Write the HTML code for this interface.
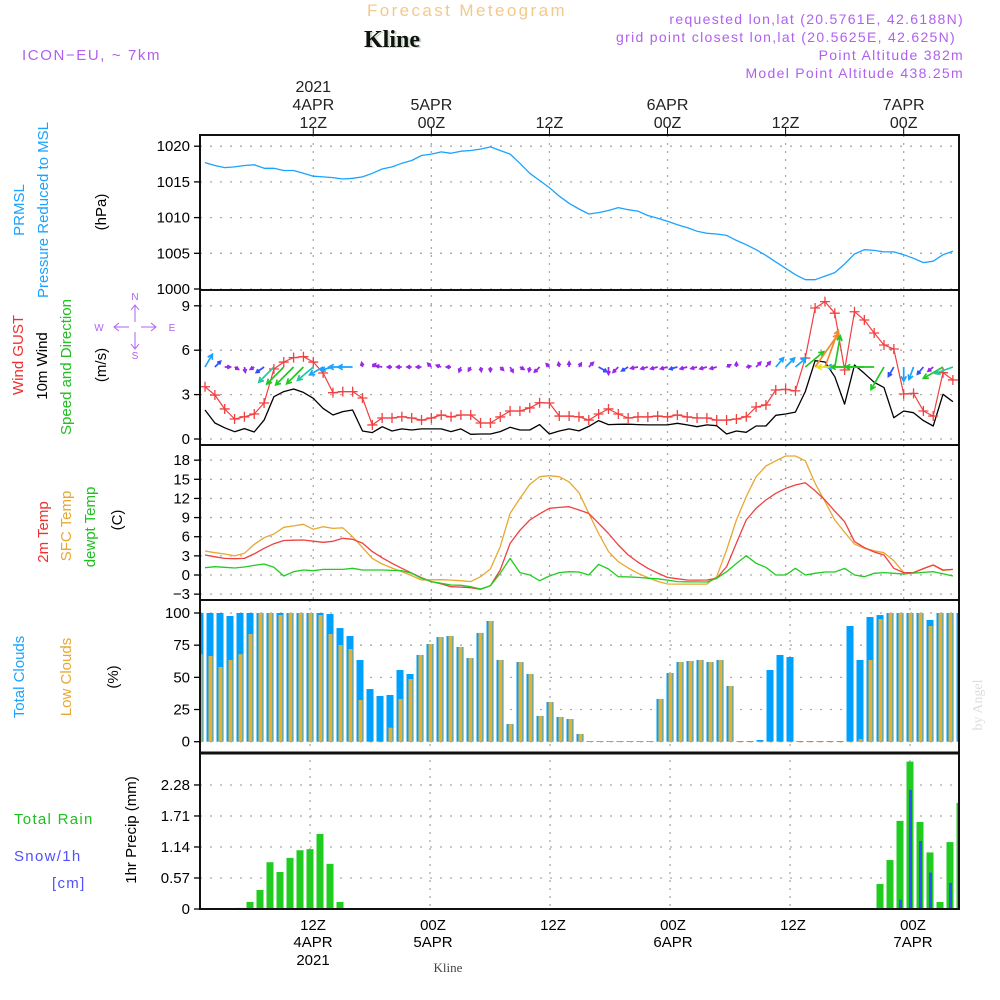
<!DOCTYPE html>
<html><head><meta charset="utf-8"><style>
html,body{margin:0;padding:0;background:#fff;}
svg{display:block;font-family:"Liberation Sans",sans-serif;}
</style></head><body>
<svg id="chart" xmlns="http://www.w3.org/2000/svg" width="1000" height="1000" viewBox="0 0 1000 1000">
<rect width="1000" height="1000" fill="#fff"/>
<text x="467" y="16" font-size="17" fill="#f3c98a" text-anchor="middle" letter-spacing="2.4">Forecast Meteogram</text>
<text x="394" y="48" font-size="24" font-weight="bold" font-family="Liberation Serif,serif" fill="#c8dcc8" text-anchor="middle">Kline</text>
<text x="392" y="47" font-size="24" font-weight="bold" font-family="Liberation Serif,serif" fill="#111" text-anchor="middle">Kline</text>
<text x="22" y="60" font-size="15" fill="#b060f0" letter-spacing="1.6">ICON−EU, ~ 7km</text>
<g font-size="14" fill="#b060f0" text-anchor="end" letter-spacing="1.3">
<text x="964" y="24">requested lon,lat (20.5761E, 42.6188N)</text>
<text x="956" y="42">grid point closest lon,lat (20.5625E, 42.625N)</text>
<text x="964" y="60">Point Altitude 382m</text>
<text x="964" y="78">Model Point Altitude 438.25m</text>
</g>
<g font-size="15">
<text transform="translate(24,210) rotate(-90)" text-anchor="middle" fill="#1aa3ff">PRMSL</text>
<text transform="translate(48,210) rotate(-90)" text-anchor="middle" fill="#1aa3ff">Pressure Reduced to MSL</text>
<text transform="translate(106,212) rotate(-90)" text-anchor="middle" fill="#000">(hPa)</text>
<text transform="translate(23,355) rotate(-90)" text-anchor="middle" fill="#f03030">Wind GUST</text>
<text transform="translate(47,366) rotate(-90)" text-anchor="middle" fill="#000">10m Wind</text>
<text transform="translate(71,367) rotate(-90)" text-anchor="middle" fill="#20c020">Speed and Direction</text>
<text transform="translate(106,365) rotate(-90)" text-anchor="middle" fill="#000">(m/s)</text>
<text transform="translate(48,532) rotate(-90)" text-anchor="middle" fill="#f03030">2m Temp</text>
<text transform="translate(71,526) rotate(-90)" text-anchor="middle" fill="#e8a830">SFC Temp</text>
<text transform="translate(95,527) rotate(-90)" text-anchor="middle" fill="#20c020">dewpt Temp</text>
<text transform="translate(122,520) rotate(-90)" text-anchor="middle" fill="#000">(C)</text>
<text transform="translate(24,677) rotate(-90)" text-anchor="middle" fill="#1aa3ff">Total Clouds</text>
<text transform="translate(71,677) rotate(-90)" text-anchor="middle" fill="#e8a830">Low Clouds</text>
<text transform="translate(118,677) rotate(-90)" text-anchor="middle" fill="#000">(%)</text>
<text transform="translate(136,830) rotate(-90)" text-anchor="middle" fill="#000">1hr Precip (mm)</text>
<text x="14" y="824" fill="#20c020" letter-spacing="1.3">Total   Rain</text>
<text x="14" y="861" fill="#5050ff" letter-spacing="1.3">Snow/1h</text>
<text x="52" y="888" fill="#5050ff" letter-spacing="1.3">[cm]</text>
</g>
<g fill="none" stroke="#b060f0" stroke-width="1">
<path d="M135,306 V322 M135,332 V348 M131,310 L135,305 L139,310 M131,344 L135,349 L139,344 M115,327 H129 M141,327 H155 M119,323 L114,327 L119,331 M151,323 L156,327 L151,331"/>
<g stroke="none" fill="#b060f0" font-size="10" text-anchor="middle">
<text x="135" y="300">N</text><text x="99" y="331">W</text><text x="172" y="331">E</text><text x="135" y="359">S</text>
</g>
</g>
<text transform="translate(982,705) rotate(-90)" text-anchor="middle" font-size="14" font-family="Liberation Serif,serif" fill="#ddd">by Angel</text>
<text x="448" y="972" font-size="13" font-family="Liberation Serif,serif" fill="#444" text-anchor="middle">Kline</text>
<g id="grid"></g>
<g id="marks"></g>
<g id="frames"></g>
<g id="axes" font-size="15" fill="#000"></g>
</svg>
<script>
const hours = Array.from({length:77},(_,i)=>i+1);
const pressure = [1017.7,1017.3,1017.0,1017.1,1017.3,1017.4,1016.9,1016.9,1016.6,1016.6,1016.2,1015.8,1015.7,1015.6,1015.4,1015.5,1015.7,1016.2,1016.8,1017.1,1017.6,1018.0,1018.7,1018.9,1019.2,1019.0,1019.3,1019.4,1019.6,1019.9,1019.4,1018.9,1017.6,1016.2,1015.2,1014.2,1013.0,1012.0,1011.2,1010.5,1010.7,1011.0,1011.4,1011.1,1010.9,1010.3,1009.9,1009.5,1009.0,1008.6,1008.1,1007.8,1007.7,1007.5,1006.8,1006.2,1005.5,1004.7,1003.8,1002.9,1002.0,1001.3,1001.3,1001.8,1002.3,1003.5,1004.9,1005.5,1005.4,1005.2,1005.2,1004.8,1004.3,1003.7,1003.9,1004.8,1005.3];
const gust = [3.53,2.97,2.03,1.35,1.5,1.69,2.43,4.73,5.2,5.5,5.56,5.2,4.46,3.13,3.2,3.2,2.77,0.95,1.42,1.42,1.5,1.42,1.28,1.42,1.62,1.5,1.62,1.62,1.08,1.08,1.49,1.89,1.89,2.1,2.45,2.43,1.55,1.55,1.5,1.28,1.69,2.03,1.69,1.42,1.49,1.49,1.55,1.49,1.62,1.49,1.42,1.42,1.28,1.28,1.35,1.5,2.16,2.3,3.31,3.35,3.25,5.47,8.85,9.28,8.5,4.66,8.6,8.04,7.16,6.35,6.08,3.04,3.08,1.89,1.55,4.48,3.99];
const wind = [1.96,1.08,0.76,0.49,0.7,0.47,1.28,2.86,3.2,3.38,3.15,2.75,2.07,1.62,1.85,1.96,0.54,0.43,0.83,0.54,0.68,0.61,0.68,0.68,0.68,0.5,0.68,0.32,0.34,0.34,0.5,0.79,0.61,0.61,0.97,0.34,0.54,0.68,0.55,0.85,1.24,0.97,0.99,1.0,0.97,0.95,0.95,0.95,1.06,0.95,0.83,0.95,0.9,0.34,0.54,0.45,0.88,0.88,1.6,1.69,1.82,3.2,5.29,5.2,4.21,2.36,5.0,4.44,3.83,3.47,1.44,1.89,1.78,1.24,0.88,3.02,2.52];
const windDir = [60,45,0,-30,-80,-150,-145,-135,-135,-135,-135,-140,-150,-165,180,180,100,45,170,180,180,180,180,135,160,180,-110,-120,-80,-90,-45,-60,-30,-100,-135,135,100,90,60,45,-30,-90,-135,-150,-170,-165,-165,-165,-165,-165,-165,-165,-165,30,90,10,45,50,50,45,40,40,55,70,80,180,180,180,180,-120,-120,-90,-110,-130,-140,-150,-160];
const temp2m = [3.13,2.85,2.6,2.55,2.6,3.3,4.18,4.9,5.4,5.45,5.49,5.3,5.12,5.28,5.75,5.6,5.0,3.66,2.7,1.83,1.05,0.3,-0.42,-1.04,-1.4,-1.83,-1.9,-1.99,-2.24,-1.67,0.78,4.96,7.0,8.62,9.6,10.45,10.6,10.71,10.19,9.66,8.1,6.5,4.7,3.13,2.0,1.05,0.3,-0.37,-0.6,-0.78,-0.8,-0.78,-0.52,1.3,5.0,8.62,10.45,11.76,12.8,13.58,14.1,14.47,13.2,11.76,10.0,8.36,5.23,4.3,3.6,3.13,1.05,0.37,0.37,1.0,1.57,0.78,0.88];
const tempSfc = [3.76,3.5,3.29,3.0,3.4,4.8,5.85,6.43,7.47,7.7,7.94,7.16,7.57,7.3,7.4,6.0,4.3,2.6,1.72,1.1,0.52,-0.1,-0.78,-0.75,-0.73,-0.8,-0.9,-1.04,-0.26,0.94,4.44,9.66,12.0,14.2,15.4,15.56,15.4,14.6,12.9,9.66,6.5,3.66,2.09,1.1,0.26,-0.4,-1.0,-1.41,-1.42,-1.43,-1.43,-1.43,-0.26,3.92,8.62,12.27,15.4,17.08,17.9,18.65,18.65,17.9,14.37,11.5,8.62,6.7,4.86,4.18,3.8,3.5,2.24,0.37,0.37,1.0,1.57,0.7,0.88];
const dewpt = [1.15,1.3,1.2,1.1,1.25,1.5,1.72,1.2,-0.16,0.52,0.78,0.68,0.88,0.88,0.88,1.05,0.78,0.78,0.78,0.72,0.68,0.26,-0.52,-1.04,-1.3,-1.57,-1.62,-1.83,-2.2,-1.67,0.26,2.6,0.37,0.0,-0.89,-0.16,0.37,0.52,0.47,0.0,1.67,0.94,-0.26,-0.3,-0.37,-0.5,-0.6,-0.8,-1.04,-1.06,-1.08,-1.1,-0.52,0.52,1.8,3.03,1.83,1.2,0.0,0.0,1.05,0.0,0.26,0.47,0.47,1.05,0.0,-0.26,0.26,0.37,0.26,0.16,0.3,0.4,0.52,0.2,-0.16];
const totalCloud = [100,100,100,97.7,100,100,100,100,100,100,100,100,100,99.2,88.3,82.1,63.5,40.9,35.5,36.3,55.7,52.6,67.4,75.9,81.3,82.1,73.6,65,84.5,93.8,63.5,13.7,61.9,52.6,20,30.8,19.2,17.6,6,0.5,0.5,0.5,0.5,0.5,0.5,0.5,33.2,53.4,61.9,62.7,63.5,61.9,63.5,43.3,0.5,0.5,1.3,55.7,67.4,65.8,0.5,0.5,0.5,0.5,0.5,89.9,63.5,96.9,98.4,100,100,100,100,94.6,100,100,100];
const lowCloud = [68,66.6,58,63.5,68,83.7,100,100,98.4,100,100,100,98.4,83.7,75.1,72,32.4,0,0,10.9,33.2,48.7,67.4,75.9,81.3,82.1,73.6,65,84.5,93.8,63.5,13.7,61.9,52.6,20,30.8,19.2,17.6,6,0.5,0.5,0.5,0.5,0.5,0.5,0.5,33.2,53.4,61.9,62.7,63.5,61.9,63.5,43.3,0,0,0,0,0,0,0,0,0,0,0,0,2,63.5,95.3,100,100,100,100,89.9,100,100,100];
const precipHours = [5,6,7,8,9,10,11,12,13,14,15,69,70,71,72,73,74,75,76,77];
const rain = [0.02,0.13,0.35,0.86,0.68,0.94,1.08,1.10,1.38,0.83,0.13,0.46,0.90,1.62,2.71,1.60,1.04,0.13,1.23,1.95];
const snowHours = [71,72,73,74,76,77];
const snow = [0.17,2.19,1.25,0.67,0.48,1.16];
const pTicks = [1000,1005,1010,1015,1020];
const wTicks = [0,3,6,9];
const tTicks = [-3,0,3,6,9,12,15,18];
const cTicks = [0,25,50,75,100];
const rTicks = [0,0.57,1.14,1.71,2.28];
const timeTicks = [12,24,36,48,60,72];
const topLabels = [["2021","4APR","12Z"],["","5APR","00Z"],["","","12Z"],["","6APR","00Z"],["","","12Z"],["","7APR","00Z"]];

const xu = t => 195.2 + 9.84*t;
const xl = t => 190 + 10*t;
const yP = v => 289 - (v-1000)*7.14;
const yW = v => 439 - v*14.8;
const yT = v => 575 - v*6.38;
const yC = v => 741.7 - v*1.287;
const yR = v => 909 - v*54.4;
const panels = [[135,290],[290,445],[445,600],[600,753],[753,909]];
const L = 200, R = 959;

const NS = "http://www.w3.org/2000/svg";
function mk(tag, attrs, parent){const e=document.createElementNS(NS,tag);for(const k in attrs)e.setAttribute(k,attrs[k]);parent.appendChild(e);return e;}
const grid = document.getElementById('grid'), marks = document.getElementById('marks'), frames = document.getElementById('frames'), axes = document.getElementById('axes');

const defs = mk('defs',{},document.getElementById('chart'));
panels.forEach((p,i)=>{const c=mk('clipPath',{id:'clip'+i},defs);mk('rect',{x:L,y:p[0],width:R-L,height:p[1]-p[0]},c);});

function hgrid(ticks, yf, name){ticks.forEach(v=>{const y=yf(v);
  const g=mk('line',{x1:L,x2:R,y1:y,y2:y,stroke:'#aaa','stroke-width':1.3,'stroke-dasharray':'2,8'},grid);
  
  });}
hgrid(pTicks,yP,'pressure');hgrid(wTicks,yW,'wind');hgrid(tTicks,yT,'temp');hgrid(cTicks,yC,'cloud');hgrid(rTicks,yR,'precip');
timeTicks.forEach(t=>{
  [[xu(t),135,445],[xu(t),445,600],[xl(t),600,909]].forEach(s=>{
    const g=mk('line',{x1:s[0],x2:s[0],y1:s[1],y2:s[2],stroke:'#aaa','stroke-width':1.3,'stroke-dasharray':'2,6'},grid);
    
    
  });
});

function line(xs, vals, xf, yf, color, w, clip, name){
  const d = vals.map((v,i)=>(i?'L':'M')+xf(xs[i]).toFixed(1)+','+yf(v).toFixed(1)).join('');
  const p=mk('path',{d:d,fill:'none',stroke:color,'stroke-width':w,'clip-path':'url(#clip'+clip+')','stroke-linejoin':'round'},marks);
  
  
}
line(hours,pressure,xu,yP,'#1aa3ff',1.3,0,'pressure-line');

hours.forEach((t,i)=>{
  const x=xl(t), yt=yC(totalCloud[i]), b=yC(0);
  const r=mk('rect',{x:x-3.5,y:yt,width:7,height:Math.max(0.8,b-yt),fill:'#00a0ff','clip-path':'url(#clip3)'},marks);
  
  
  const yl=yC(lowCloud[i]);
  const r2=mk('rect',{x:x-1.5,y:yl,width:4,height:Math.max(0.6,b-yl),fill:'#e8b030','clip-path':'url(#clip3)'},marks);
  
  
});
precipHours.forEach((t,i)=>{
  const x=xl(t), y=yR(rain[i]);
  const r=mk('rect',{x:x-3.5,y:y,width:7,height:909-y,fill:'#20cc20','clip-path':'url(#clip4)'},marks);
  
  
});
snowHours.forEach((t,i)=>{
  const x=xl(t), y=yR(snow[i]);
  const r=mk('rect',{x:x-1,y:y,width:3,height:909-y,fill:'#3050ff','clip-path':'url(#clip4)'},marks);
  
  
});

line(hours,tempSfc,xu,yT,'#e8a830',1.3,2,'sfc-temp-line');
line(hours,temp2m,xu,yT,'#f04040',1.3,2,'temp-2m-line');
line(hours,dewpt,xu,yT,'#20cc20',1.3,2,'dewpt-line');

line(hours,wind,xu,yW,'#000',1.3,1,'wind-speed-line');
line(hours,gust,xu,yW,'#f04040',1.2,1,'gust-line');
hours.forEach((t,i)=>{
  const x=xu(t), y=yW(gust[i]);
  const m=mk('path',{d:`M${x-5},${y}H${x+5}M${x},${y-5}V${y+5}`,stroke:'#f04040','stroke-width':1.3,'clip-path':'url(#clip1)'},marks);
  
  
});
function windColor(s){return s<1?'#9a28e8':s<1.5?'#3050ff':s<2.5?'#1aa3ff':s<3?'#20c8a0':s<4.5?'#20c820':s<5.1?'#e8e020':'#f08a30';}
hours.forEach((t,i)=>{
  const s=wind[i], a=windDir[i]*Math.PI/180, len=Math.max(4.5,7.5*s);
  const x0=xu(t), y0=367, x1=x0+len*Math.cos(a), y1=y0-len*Math.sin(a);
  const h=Math.min(5.5,Math.max(3.5,len*0.4)), a1=a+Math.PI-0.5, a2=a+Math.PI+0.5;
  const d=`M${x0.toFixed(1)},${y0}L${x1.toFixed(1)},${y1.toFixed(1)}M${(x1+h*Math.cos(a1)).toFixed(1)},${(y1-h*Math.sin(a1)).toFixed(1)}L${x1.toFixed(1)},${y1.toFixed(1)}L${(x1+h*Math.cos(a2)).toFixed(1)},${(y1-h*Math.sin(a2)).toFixed(1)}`;
  const p=mk('path',{d:d,fill:'none',stroke:windColor(s),'stroke-width':1.7,'clip-path':'url(#clip1)'},marks);
  
  
});

panels.forEach((p,i)=>{
  const f=mk('rect',{x:L,y:p[0],width:R-L,height:p[1]-p[0],fill:'none',stroke:'#111','stroke-width':2},frames);
  
  
});
const dbl=mk('line',{x1:L,x2:R,y1:753,y2:753,stroke:'#111','stroke-width':3},frames);



function yaxis(ticks, yf, fmt, name){ticks.forEach(v=>{const y=yf(v);
  const tk=mk('line',{x1:194,x2:200,y1:y,y2:y,stroke:'#000','stroke-width':1.3},axes);
  
  
  const tx=mk('text',{x:190,y:y+5,'text-anchor':'end'},axes);tx.textContent=fmt(v);
  
  });}
yaxis(pTicks,yP,v=>String(v),'pressure');
yaxis(wTicks,yW,v=>String(v),'wind');
yaxis(tTicks,yT,v=>v<0?'−'+(-v):String(v),'temp');
yaxis(cTicks,yC,v=>String(v),'cloud');
yaxis(rTicks,yR,v=>v===0?'0':v.toFixed(2),'precip');

timeTicks.forEach((t,i)=>{
  const xt=xu(t);
  const tk=mk('line',{x1:xt,x2:xt,y1:128,y2:135,stroke:'#000','stroke-width':1},axes);
  
  
  const lab=topLabels[i];
  [[lab[0],92],[lab[1],110],[lab[2],128]].forEach(q=>{ if(!q[0])return;
    const tx=mk('text',{x:xt,y:q[1],'text-anchor':'middle',fill:'#222','font-size':16},axes);tx.textContent=q[0];
    
    });
  const xb=xl(t)+3;
  [[lab[2],930],[lab[1],947],[lab[0],965]].forEach(q=>{ if(!q[0])return;
    const tx=mk('text',{x:xb,y:q[1],'text-anchor':'middle',fill:'#000'},axes);tx.textContent=q[0];
    
    });
});
</script>
</body></html>
